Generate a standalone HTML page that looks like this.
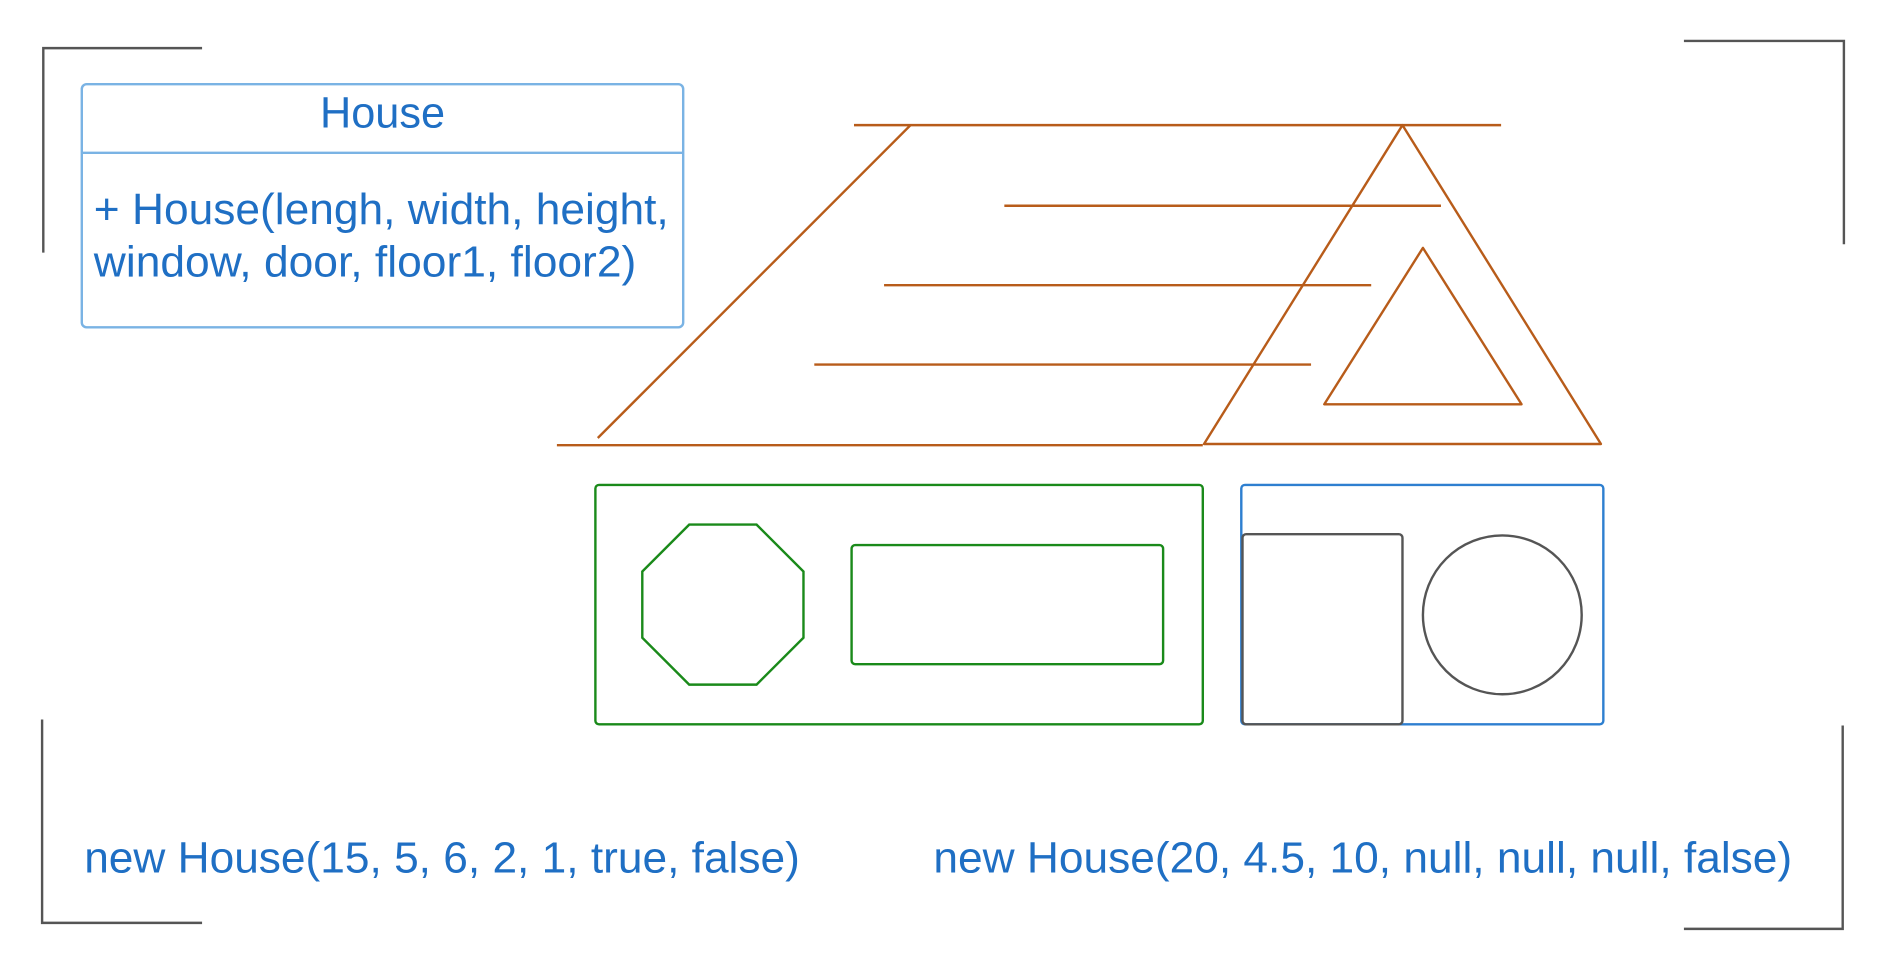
<!DOCTYPE html>
<html><head><meta charset="utf-8"><style>
html,body{margin:0;padding:0;background:#fff;width:1886px;height:971px;overflow:hidden}
svg{display:block}
text{font-family:"Liberation Sans",sans-serif;fill:#1f6fc4}
</style></head><body>
<svg width="1886" height="971" viewBox="0 0 1568 807" preserveAspectRatio="none" xmlns="http://www.w3.org/2000/svg">
<g stroke="#555" stroke-width="2" fill="none">
<polyline points="168,40 36,40 36,210"/>
<polyline points="1400,34 1533,34 1533,203"/>
<polyline points="35,598 35,767 168,767"/>
<polyline points="1532,603 1532,772 1400,772"/>
</g>
<rect x="68" y="70" width="500" height="202" rx="4" fill="none" stroke="#7ab3e4" stroke-width="2"/>
<line x1="68" y1="127" x2="568" y2="127" stroke="#7ab3e4" stroke-width="2"/>
<text x="318" y="106" font-size="36.5" text-anchor="middle" textLength="104" lengthAdjust="spacingAndGlyphs">House</text>
<text x="78" y="186" font-size="36.5" textLength="478" lengthAdjust="spacingAndGlyphs">+ House(lengh, width, height,</text>
<text x="78" y="230" font-size="36.5" textLength="451" lengthAdjust="spacingAndGlyphs">window, door, floor1, floor2)</text>
<g stroke="#b85c1a" stroke-width="2" fill="none" stroke-linejoin="round">
<line x1="710" y1="104" x2="1248" y2="104"/>
<line x1="757" y1="104" x2="497" y2="364"/>
<line x1="463" y1="370" x2="1000" y2="370"/>
<line x1="835" y1="171" x2="1198" y2="171"/>
<line x1="735" y1="237" x2="1140" y2="237"/>
<line x1="677" y1="303" x2="1090" y2="303"/>
<polygon points="1166,104 1001,369 1331,369"/>
<polygon points="1183,206 1101,336 1265,336"/>
</g>
<g fill="none" stroke="#1a8a1a" stroke-width="2">
<rect x="495" y="403" width="505" height="199" rx="3"/>
<polygon points="573,436 629,436 668,475 668,530 629,569 573,569 534,530 534,475"/>
<rect x="708" y="453" width="259" height="99" rx="3"/>
</g>
<rect x="1032" y="403" width="301" height="199" rx="3" fill="none" stroke="#2e7fd0" stroke-width="2"/>
<rect x="1033" y="444" width="133" height="158" rx="3" fill="none" stroke="#555" stroke-width="2"/>
<circle cx="1249" cy="511" r="66" fill="none" stroke="#555" stroke-width="2"/>
<text x="70" y="725" font-size="36.5" textLength="595" lengthAdjust="spacingAndGlyphs">new House(15, 5, 6, 2, 1, true, false)</text>
<text x="776" y="725" font-size="36.5" textLength="714" lengthAdjust="spacingAndGlyphs">new House(20, 4.5, 10, null, null, null, false)</text>
</svg>
</body></html>
